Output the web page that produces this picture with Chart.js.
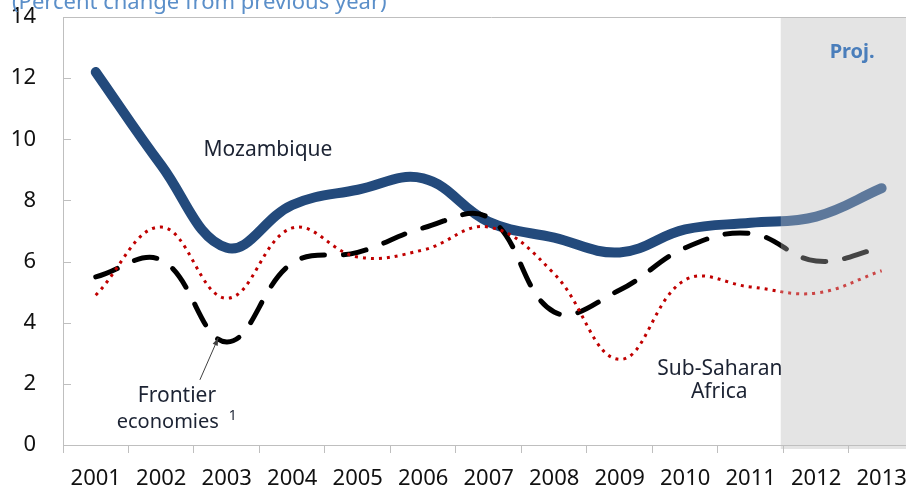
<!DOCTYPE html>
<html>
<head>
<meta charset="utf-8">
<script src="https://cdn.jsdelivr.net/npm/chart.js@4.4.0/dist/chart.umd.min.js"></script>
<style>
  html, body { margin: 0; padding: 0; background: #fff; }
  body { width: 906px; height: 489px; overflow: hidden; }
  canvas { display: block; }
</style>
</head>
<body>
<canvas id="growthChart" width="920" height="489"></canvas>
<script>
// Real GDP growth, percent change from previous year
const years = ['2001', '2002', '2003', '2004', '2005', '2006', '2007', '2008', '2009', '2010', '2011', '2012', '2013'];
const mozambique = [12.2, 9.15, 6.45, 7.85, 8.35, 8.72, 7.3, 6.78, 6.3, 7.05, 7.27, 7.47, 8.4];
const frontier = [5.5, 6.05, 3.37, 5.95, 6.3, 7.1, 7.43, 4.35, 5.07, 6.45, 6.92, 6.02, 6.45];
const subSaharan = [4.9, 7.13, 4.8, 7.1, 6.15, 6.38, 7.13, 5.6, 2.8, 5.4, 5.17, 4.97, 5.7];
const yTicks = [0, 2, 4, 6, 8, 10, 12, 14];
const projStart = 10.46; // category index where the projection band starts

const labelFont = '"Noto Sans", "Open Sans", sans-serif';
const axisGray = '#bfbfbf';
const bandGray = '#e4e4e4';

const decorPlugin = {
    id: 'decor',
    beforeDraw(chart) {
        const { ctx, chartArea, scales } = chart;
        const x0 = scales.x.getPixelForValue(projStart);
        ctx.save();
        ctx.fillStyle = bandGray;
        ctx.fillRect(x0, chartArea.top, chart.width - x0, chartArea.bottom - chartArea.top + 4);
        ctx.restore();
    },
    beforeDatasetsDraw(chart) {
        const { ctx, chartArea, scales } = chart;
        ctx.save();
        ctx.strokeStyle = axisGray;
        ctx.lineWidth = 1;
        // top border of the plot
        ctx.beginPath();
        ctx.moveTo(chartArea.left, chartArea.top + 0.5);
        ctx.lineTo(chart.width, chartArea.top + 0.5);
        ctx.stroke();
        // inside tick marks on the value axis
        yTicks.forEach(v => {
            const y = Math.round(scales.y.getPixelForValue(v)) + 0.5;
            ctx.beginPath();
            ctx.moveTo(chartArea.left, y);
            ctx.lineTo(chartArea.left + 8, y);
            ctx.stroke();
        });
        ctx.restore();
    },
    afterDatasetsDraw(chart) {
        const { ctx, chartArea, scales } = chart;
        const sx = scales.x, sy = scales.y;
        const x0 = sx.getPixelForValue(projStart);
        ctx.save();
        // fade the projected part of the lines
        ctx.fillStyle = 'rgba(228, 228, 228, 0.3)';
        ctx.fillRect(x0, chartArea.top + 1, chart.width - x0, chartArea.bottom - chartArea.top - 1);

        // subtitle, cut at the top edge like the original
        ctx.fillStyle = '#5b8fc9';
        ctx.font = '22px ' + labelFont;
        ctx.textAlign = 'left';
        ctx.textBaseline = 'alphabetic';
        ctx.fillText('(Percent change from previous year)', 12, 9);

        ctx.fillStyle = '#4a7ebb';
        ctx.font = 'bold 20px ' + labelFont;
        ctx.textAlign = 'center';
        ctx.textBaseline = 'middle';
        ctx.fillText('Proj.', sx.getPixelForValue(11.55), sy.getPixelForValue(12.86));

        // series labels
        ctx.fillStyle = '#1c2333';
        ctx.font = '21px ' + labelFont;
        ctx.fillText('Mozambique', sx.getPixelForValue(2.63), sy.getPixelForValue(9.65));
        ctx.fillText('Frontier', sx.getPixelForValue(1.24), sy.getPixelForValue(1.6));
        ctx.font = '20px ' + labelFont;
        const ex = sx.getPixelForValue(1.1), ey = sy.getPixelForValue(0.75);
        ctx.fillText('economies', ex, ey);
        const half = ctx.measureText('economies').width / 2;
        ctx.font = '14px ' + labelFont;
        ctx.textAlign = 'left';
        ctx.fillText('1', ex + half + 10, ey - 6);
        ctx.font = '21px ' + labelFont;
        ctx.textAlign = 'center';
        ctx.fillText('Sub-Saharan', sx.getPixelForValue(9.53), sy.getPixelForValue(2.49));
        ctx.fillText('Africa', sx.getPixelForValue(9.52), sy.getPixelForValue(1.73));

        // arrow pointing at the frontier economies line
        const ax = sx.getPixelForValue(1.59), ay = sy.getPixelForValue(2.13);
        const tx = sx.getPixelForValue(1.87), ty = sy.getPixelForValue(3.5);
        const ang = Math.atan2(ty - ay, tx - ax);
        ctx.strokeStyle = '#404040';
        ctx.fillStyle = '#404040';
        ctx.lineWidth = 1;
        ctx.beginPath();
        ctx.moveTo(ax, ay);
        ctx.lineTo(tx, ty);
        ctx.stroke();
        ctx.beginPath();
        ctx.moveTo(tx, ty);
        ctx.lineTo(tx - 8 * Math.cos(ang - 0.35), ty - 8 * Math.sin(ang - 0.35));
        ctx.lineTo(tx - 8 * Math.cos(ang + 0.35), ty - 8 * Math.sin(ang + 0.35));
        ctx.closePath();
        ctx.fill();
        ctx.restore();
    }
};

new Chart(document.getElementById('growthChart'), {
    type: 'line',
    data: {
        labels: years,
        datasets: [{
            label: 'Sub-Saharan Africa',
            data: subSaharan,
            borderColor: '#c00000',
            borderWidth: 3,
            borderDash: [3, 5],
            borderCapStyle: 'butt',
            tension: 0.4,
            pointRadius: 0,
            fill: false
        }, {
            label: 'Frontier economies',
            data: frontier,
            borderColor: '#000000',
            borderWidth: 5,
            borderDash: [23, 19],
            borderCapStyle: 'round',
            tension: 0.4,
            pointRadius: 0,
            fill: false
        }, {
            label: 'Mozambique',
            data: mozambique,
            borderColor: '#234a7c',
            borderWidth: 10,
            borderCapStyle: 'round',
            borderJoinStyle: 'round',
            tension: 0.4,
            pointRadius: 0,
            fill: false
        }]
    },
    options: {
        responsive: false,
        animation: false,
        devicePixelRatio: 1,
        layout: { padding: { top: 17, right: 5, left: 0, bottom: 0 } },
        plugins: {
            legend: { display: false },
            tooltip: { enabled: false }
        },
        scales: {
            x: {
                type: 'category',
                offset: true,
                grid: {
                    offset: true,
                    drawOnChartArea: false,
                    drawTicks: true,
                    tickLength: 8,
                    color: axisGray
                },
                border: { display: true, color: axisGray },
                ticks: {
                    color: '#111',
                    font: { family: labelFont, size: 22 },
                    padding: 13,
                    maxRotation: 0,
                    autoSkip: false
                },
                afterFit(scale) { scale.height = 44; }
            },
            y: {
                min: 0,
                max: 14,
                ticks: {
                    stepSize: 2,
                    color: '#111',
                    font: { family: labelFont, size: 22 },
                    padding: 27
                },
                grid: { drawOnChartArea: false, drawTicks: false },
                border: { display: true, color: axisGray },
                afterFit(scale) {
                    scale.width = 63;
                    // the label padding should not push the plot down
                    scale.paddingTop = 0;
                    scale.paddingBottom = 0;
                }
            }
        }
    },
    plugins: [decorPlugin]
});
</script>
</body>
</html>
